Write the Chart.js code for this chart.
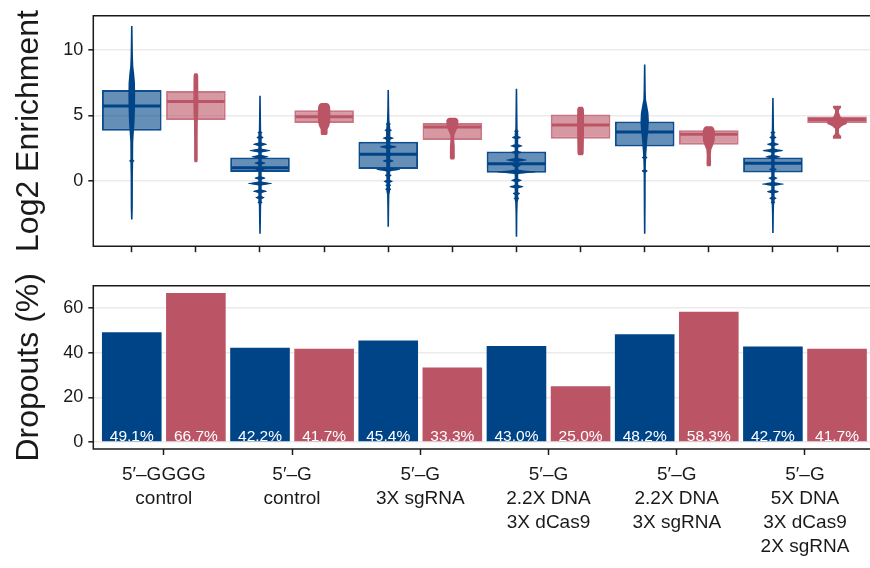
<!DOCTYPE html>
<html>
<head>
<meta charset="utf-8">
<title>Log2 enrichment and dropouts by condition</title>
<script src="https://cdn.jsdelivr.net/npm/chart.js@4.4.1/dist/chart.umd.min.js"></script>
<style>
  html, body { margin: 0; padding: 0; background: #ffffff; overflow: hidden; width: 870px; height: 568px; }
  #figure { position: relative; width: 870px; height: 568px; overflow: hidden; }
  #figure canvas { position: absolute; left: 0; display: block; }
  #enrich { top: 0; }
  #dropout { top: 262px; }
</style>
</head>
<body>
<div id="figure">
  <canvas id="enrich" width="876" height="262"></canvas>
  <canvas id="dropout" width="876" height="306"></canvas>
</div>
<script>
// Condition labels (one entry per text line)
const groups = [
  ["5′–GGGG", "control"],
  ["5′–G", "control"],
  ["5′–G", "3X sgRNA"],
  ["5′–G", "2.2X DNA", "3X dCas9"],
  ["5′–G", "2.2X DNA", "3X sgRNA"],
  ["5′–G", "5X DNA", "3X dCas9", "2X sgRNA"]
];
const enrichTicks = [0, 5, 10];
const dropoutTicks = [0, 20, 40, 60];

// Log2 enrichment box summaries per condition
const blueQ1  = [3.83, 0.71, 0.93, 0.64, 2.64, 0.66];
const blueMed = [5.71, 1.02, 2.05, 1.33, 3.74, 1.37];
const blueQ3  = [6.93, 1.81, 3.00, 2.26, 4.54, 1.81];
const pinkQ1  = [4.66, 4.43, 3.14, 3.24, 2.78, 4.43];
const pinkMed = [6.07, 4.90, 4.12, 4.28, 3.57, 4.69];
const pinkQ3  = [6.86, 5.40, 4.43, 5.07, 3.88, 4.93];

// Dropouts (%)
const blueDropout = [49.1, 42.2, 45.4, 43.0, 48.2, 42.7];
const pinkDropout = [66.7, 41.7, 33.3, 25.0, 58.3, 41.7];

// Density outlines: profile = [value, density] knots, peaks = [value, density] sharp modes
const blueViolins = [
  { profile: [[-2.9, 0.8], [-2.0, 1.1], [0.5, 1.2], [1.3, 1.4], [1.8, 1.4], [3.0, 1.5], [3.7, 2.1], [4.5, 2.8], [5.5, 3.2], [6.5, 3.4], [7.5, 3.2], [8.2, 2.4], [8.7, 1.6], [9.5, 1.2], [11.8, 0.8]],
    peaks: [[1.55, 2.6]] },
  { profile: [[-3.98, 0.8], [-3.0, 1.0], [-1.8, 1.2], [-1.5, 1.7], [3.5, 1.7], [3.8, 1.2], [5.0, 1.0], [6.5, 0.8]],
    peaks: [[3.7, 2.4], [3.33, 3.5], [2.81, 7], [2.33, 10.5], [1.86, 8.5], [1.38, 5.5], [0.9, 4.5], [0.24, 5.5], [-0.17, 12], [-0.76, 7], [-1.24, 4.5], [-1.6, 2.4]] },
  { profile: [[-3.45, 0.8], [-2.0, 1.0], [-1.0, 1.2], [-0.8, 1.8], [3.9, 2.2], [4.3, 1.7], [4.6, 1.3], [5.5, 1.0], [6.93, 0.8]],
    peaks: [[4.35, 2.4], [3.88, 3.6], [3.28, 5.5], [2.62, 8.5], [2.05, 4.5], [1.55, 5.5], [0.9, 12], [0.45, 3.3], [0.0, 4.5], [-0.3, 2.8], [-0.6, 3.0]] },
  { profile: [[-4.21, 0.8], [-2.5, 1.0], [-1.6, 1.3], [-1.4, 1.8], [3.6, 1.8], [4.0, 1.2], [5.5, 1.0], [7.02, 0.8]],
    peaks: [[3.8, 2.2], [3.33, 4.5], [2.69, 6], [2.2, 5.3], [1.62, 10.5], [1.2, 4.3], [0.71, 20], [0.07, 5.3], [-0.41, 7], [-0.93, 3.6], [-1.3, 2.7]] },
  { profile: [[-3.98, 0.8], [-2.0, 1.0], [0.4, 1.1], [1.0, 1.2], [1.6, 1.4], [2.1, 1.7], [2.5, 2.1], [3.2, 2.7], [4.0, 3.8], [4.6, 4.2], [5.2, 3.8], [5.8, 2.4], [6.2, 1.4], [7.0, 1.1], [8.88, 0.8]],
    peaks: [[0.78, 2.9], [1.8, 2.7]] },
  { profile: [[-3.93, 0.8], [-2.5, 1.0], [-1.8, 1.2], [-1.5, 1.7], [3.5, 1.7], [3.8, 1.2], [5.0, 1.0], [6.33, 0.8]],
    peaks: [[3.7, 2.4], [3.33, 3.5], [2.81, 6], [2.33, 10.5], [1.86, 7.5], [1.38, 4.5], [0.9, 3.8], [0.24, 4.5], [-0.21, 11], [-0.79, 6], [-1.29, 3.6], [-1.6, 2.2]] }
];
const pinkViolins = [
  { profile: [[1.45, 1.3], [1.6, 1.8], [3.0, 1.8], [4.5, 1.9], [5.0, 2.3], [6.0, 2.5], [7.5, 2.4], [8.05, 2.3], [8.21, 1.4]] },
  { profile: [[3.52, 2.6], [3.6, 3.4], [3.95, 3.5], [4.2, 5.1], [4.5, 6.1], [5.3, 6.3], [5.7, 5.9], [5.88, 4.6], [5.95, 2.6]] },
  { profile: [[1.66, 1.9], [1.8, 2.5], [2.7, 2.4], [3.2, 1.9], [3.5, 2.0], [3.8, 3.6], [4.1, 5.6], [4.6, 6.1], [4.75, 5.1], [4.83, 3.1]] },
  { profile: [[1.97, 2.1], [2.1, 3.1], [3.0, 3.3], [4.0, 3.5], [5.0, 3.5], [5.5, 3.3], [5.66, 2.1]] },
  { profile: [[1.14, 1.9], [1.3, 2.3], [2.0, 2.1], [2.4, 2.5], [2.8, 4.6], [3.1, 5.9], [3.8, 6.1], [4.05, 5.1], [4.19, 3.1]] },
  { profile: [[3.24, 4.1], [3.45, 4.1], [3.55, 2.6], [3.7, 1.9], [4.0, 2.1], [4.2, 5.1], [4.35, 9.6], [4.5, 10.1], [4.65, 8.6], [4.9, 3.6], [5.2, 2.1], [5.4, 1.9], [5.55, 3.6], [5.65, 4.3], [5.74, 3.6]] }
];

const BLUE = '#004488';
const PINK = '#BB5566';
const INK = '#1a1a1a';
const FONT = "'Liberation Sans', Arial, Helvetica, sans-serif";

Chart.defaults.font.family = FONT;
Chart.defaults.color = INK;

// each condition occupies two slots: blue at 2i, pink at 2i + 1
const slots = groups.flatMap((g, i) => [2 * i, 2 * i + 1]);
const groupCenters = groups.map((g, i) => 2 * i + 0.5);
const X_MIN = -0.6, X_MAX = slots.length - 1 + 0.6;
const PEAK_SD = 0.08;

// density at a value: piecewise-linear profile, with sharp modes on top
function densityAt(v, val) {
  const p = v.profile;
  let w = 0;
  for (let i = 0; i < p.length - 1; i++) {
    if (val >= p[i][0] && val <= p[i + 1][0]) {
      const t = (val - p[i][0]) / (p[i + 1][0] - p[i][0]);
      w = p[i][1] + t * (p[i + 1][1] - p[i][1]);
      break;
    }
  }
  let peak = 0;
  (v.peaks || []).forEach(([c, h]) => {
    peak += h * Math.exp(-((val - c) * (val - c)) / (2 * PEAK_SD * PEAK_SD));
  });
  return Math.max(w, peak);
}

// medians and violins drawn on top of the boxes
const violinPlugin = {
  id: 'violins',
  afterDatasetsDraw(chart) {
    const ctx = chart.ctx;
    const yScale = chart.scales.y;
    const area = chart.chartArea;
    ctx.save();
    ctx.beginPath();
    ctx.rect(area.left, area.top, area.right - area.left, area.bottom - area.top);
    ctx.clip();
    chart.data.datasets.forEach((ds, di) => {
      const meta = chart.getDatasetMeta(di);
      meta.data.forEach((bar, j) => {
        const { x, width } = bar.getProps(['x', 'width'], true);
        // median line
        const ym = yScale.getPixelForValue(ds.medians[j]);
        ctx.strokeStyle = ds.markColor;
        ctx.lineWidth = 3;
        ctx.beginPath();
        ctx.moveTo(x - width / 2 + 1, ym);
        ctx.lineTo(x + width / 2 - 1, ym);
        ctx.stroke();
        // violin outline
        const v = ds.violins[j];
        const k = width / 59.6;
        const lo = v.profile[0][0];
        const hi = v.profile[v.profile.length - 1][0];
        const yTop = yScale.getPixelForValue(hi);
        const yBot = yScale.getPixelForValue(lo);
        const steps = Math.max(2, Math.ceil((yBot - yTop) * 3));
        const half = [];
        for (let s = 0; s <= steps; s++) {
          const py = yTop + (yBot - yTop) * s / steps;
          const val = Math.min(hi, Math.max(lo, yScale.getValueForPixel(py)));
          half.push([py, densityAt(v, val) * k]);
        }
        ctx.fillStyle = ds.markColor;
        ctx.beginPath();
        half.forEach(([py, w], s) => s === 0 ? ctx.moveTo(x + w, py) : ctx.lineTo(x + w, py));
        for (let s = half.length - 1; s >= 0; s--) ctx.lineTo(x - half[s][1], half[s][0]);
        ctx.closePath();
        ctx.fill();
      });
    });
    ctx.restore();
  }
};

// panel frame: top edge, left axis line and bottom axis line
const framePlugin = {
  id: 'frame',
  afterDraw(chart) {
    const { left, top, right, bottom } = chart.chartArea;
    const ctx = chart.ctx;
    ctx.save();
    ctx.strokeStyle = INK;
    ctx.lineWidth = 1.5;
    ctx.beginPath();
    ctx.moveTo(right, top);
    ctx.lineTo(left, top);
    ctx.lineTo(left, bottom);
    ctx.lineTo(right, bottom);
    ctx.stroke();
    ctx.restore();
  }
};

// percentage written at the foot of every bar
const valueLabelPlugin = {
  id: 'valueLabels',
  afterDatasetsDraw(chart) {
    const ctx = chart.ctx;
    const yScale = chart.scales.y;
    const base = yScale.getPixelForValue(0);
    ctx.save();
    ctx.fillStyle = '#ffffff';
    ctx.font = '15.5px ' + FONT;
    ctx.textAlign = 'center';
    ctx.textBaseline = 'alphabetic';
    chart.data.datasets.forEach((ds, di) => {
      chart.getDatasetMeta(di).data.forEach((bar, j) => {
        ctx.fillText(ds.data[j].y.toFixed(1) + '%', bar.x, base - 1);
      });
    });
    ctx.restore();
  }
};

const yTitle = (text) => ({
  display: true,
  text,
  font: { size: 32, family: FONT },
  color: INK,
  padding: { top: 10, bottom: 0 }
});

const yGrid = {
  color: '#ebebeb',
  lineWidth: 1.6,
  drawTicks: true,
  tickLength: 5,
  tickColor: INK,
  tickWidth: 1.5
};

const xGrid = {
  offset: false,
  drawOnChartArea: false,
  drawTicks: true,
  tickLength: 6,
  tickColor: INK,
  tickWidth: 1.5
};

// ---------- Log2 enrichment panel ----------
new Chart(document.getElementById('enrich'), {
  type: 'bar',
  data: {
    datasets: [
      {
        label: 'blue',
        data: blueQ1.map((q, i) => ({ x: 2 * i, y: [q, blueQ3[i]] })),
        medians: blueMed,
        violins: blueViolins,
        markColor: BLUE,
        backgroundColor: 'rgba(0,68,136,0.6)',
        borderColor: 'rgba(0,68,136,0.95)',
        borderWidth: 2,
        borderSkipped: false
      },
      {
        label: 'pink',
        data: pinkQ1.map((q, i) => ({ x: 2 * i + 1, y: [q, pinkQ3[i]] })),
        medians: pinkMed,
        violins: pinkViolins,
        markColor: PINK,
        backgroundColor: 'rgba(187,85,102,0.6)',
        borderColor: 'rgba(187,85,102,0.8)',
        borderWidth: 2,
        borderSkipped: false
      }
    ]
  },
  options: {
    responsive: false,
    devicePixelRatio: 1,
    animation: false,
    grouped: false,
    categoryPercentage: 1,
    barPercentage: 0.93,
    layout: { padding: { top: 8.3, right: 0.5, bottom: 0, left: 0 } },
    plugins: { legend: { display: false }, tooltip: { enabled: false } },
    scales: {
      x: {
        type: 'linear',
        offset: false,
        min: X_MIN,
        max: X_MAX,
        afterBuildTicks: (s) => { s.ticks = slots.map(v => ({ value: v })); },
        afterFit: (s) => { s.height = 8.7; },
        ticks: { display: false },
        grid: xGrid,
        border: { display: false }
      },
      y: {
        type: 'linear',
        min: -4.93,
        max: 12.57,
        afterBuildTicks: (s) => { s.ticks = enrichTicks.map(v => ({ value: v })); },
        afterFit: (s) => { s.width = 93.3; },
        ticks: { font: { size: 18 }, color: INK, padding: 5 },
        grid: yGrid,
        border: { display: false },
        title: yTitle('Log2 Enrichment')
      }
    }
  },
  plugins: [violinPlugin, framePlugin]
});

// ---------- Dropouts panel ----------
new Chart(document.getElementById('dropout'), {
  type: 'bar',
  data: {
    datasets: [
      {
        label: 'blue',
        data: blueDropout.map((v, i) => ({ x: 2 * i, y: v })),
        backgroundColor: BLUE
      },
      {
        label: 'pink',
        data: pinkDropout.map((v, i) => ({ x: 2 * i + 1, y: v })),
        backgroundColor: PINK
      }
    ]
  },
  options: {
    responsive: false,
    devicePixelRatio: 1,
    animation: false,
    grouped: false,
    categoryPercentage: 1,
    barPercentage: 0.93,
    layout: { padding: { top: 23.7, right: 0.5, bottom: 0, left: 0 } },
    plugins: { legend: { display: false }, tooltip: { enabled: false } },
    scales: {
      x: {
        type: 'linear',
        offset: false,
        min: X_MIN,
        max: X_MAX,
        afterBuildTicks: (s) => { s.ticks = groupCenters.map(v => ({ value: v })); },
        afterFit: (s) => { s.height = 119; },
        ticks: {
          autoSkip: false,
          maxRotation: 0,
          minRotation: 0,
          padding: 8,
          color: INK,
          font: { size: 19, lineHeight: '24px' },
          callback: (value, index) => groups[index]
        },
        grid: xGrid,
        border: { display: false }
      },
      y: {
        type: 'linear',
        min: -3.13,
        max: 69.93,
        afterBuildTicks: (s) => { s.ticks = dropoutTicks.map(v => ({ value: v })); },
        afterFit: (s) => { s.width = 93.3; },
        ticks: { font: { size: 18 }, color: INK, padding: 5 },
        grid: yGrid,
        border: { display: false },
        title: yTitle('Dropouts (%)')
      }
    }
  },
  plugins: [valueLabelPlugin, framePlugin]
});
</script>
</body>
</html>
